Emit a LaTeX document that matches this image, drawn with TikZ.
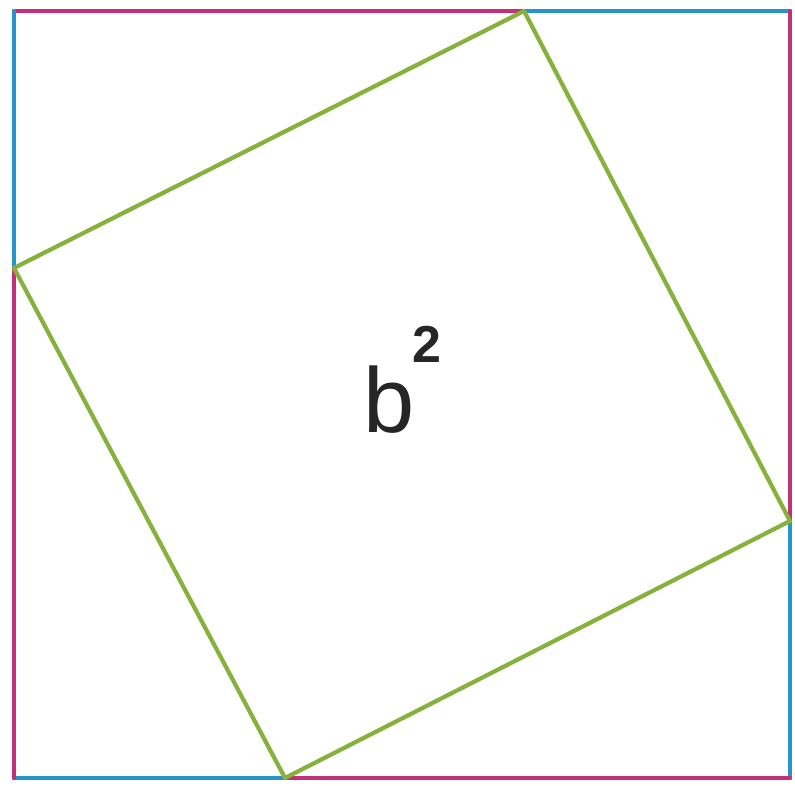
\documentclass[tikz,border=0pt]{standalone}
\usepackage{fontspec}
\setmainfont{Liberation Sans}
\definecolor{mag}{RGB}{196,48,120}
\definecolor{blu}{RGB}{40,148,200}
\definecolor{grn}{RGB}{134,178,60}
\begin{document}
\begin{tikzpicture}[x=1pt,y=-1pt,
  edge/.style={line width=4.2pt,line cap=round},
  lbl/.style={inner sep=0pt,outer sep=0pt,anchor=base west}]
\useasboundingbox (0,0) rectangle (795,785);
\coordinate (TL) at (14,11);
\coordinate (TR) at (790,11);
\coordinate (BR) at (790,778);
\coordinate (BL) at (14,778);
\coordinate (GT) at (524,11);
\coordinate (GR) at (790,521);
\coordinate (GB) at (285,778);
\coordinate (GL) at (14,268);
\draw[edge,mag] (TL) -- (GT);
\draw[edge,blu] (GT) -- (TR);
\draw[edge,mag] (TR) -- (GR);
\draw[edge,blu] (GR) -- (BR);
\draw[edge,mag] (BR) -- (GB);
\draw[edge,blu] (GB) -- (BL);
\draw[edge,mag] (BL) -- (GL);
\draw[edge,blu] (GL) -- (TL);
\draw[edge,grn,line join=round] (GT) -- (GR) -- (GB) -- (GL) -- cycle;
\node[lbl,font=\fontsize{92}{92}\selectfont,text=black!85] (b) at (363,432) {b};
\node[lbl,font=\fontsize{52}{52}\selectfont\bfseries,text=black!85] (two) at (412,362) {2};
\end{tikzpicture}
\end{document}
